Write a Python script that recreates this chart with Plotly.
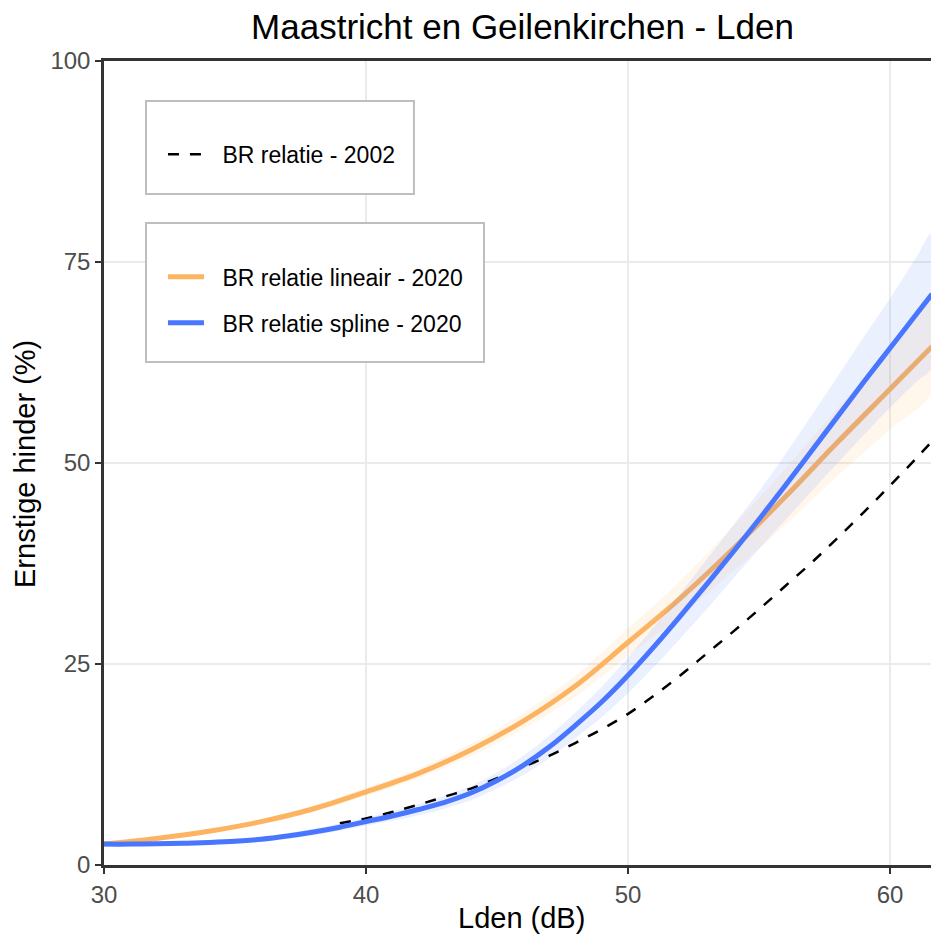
import plotly.graph_objects as go

# ---- data ----
lden_lin = [30, 32, 34, 36, 38, 40, 42, 44, 46, 48, 50, 52, 54, 56, 58, 60, 61.6]
hinder_lin = [2.6, 3.3, 4.2, 5.4, 7.0, 9.1, 11.4, 14.3, 17.9, 22.3, 27.7, 33.2, 39.3, 45.8, 52.6, 59.2, 64.5]
lin_lower = [2.4, 3.1, 3.9, 5.1, 6.6, 8.6, 10.8, 13.5, 16.9, 21.0, 26.0, 31.0, 36.5, 42.3, 48.4, 54.2, 58.9]
lin_upper = [2.8, 3.5, 4.5, 5.7, 7.4, 9.6, 12.0, 15.1, 18.9, 23.6, 29.4, 35.4, 42.1, 49.3, 56.8, 64.2, 70.1]

lden_spl = [30, 31, 32, 33, 34, 35, 36, 37, 38, 39, 40, 41, 42, 43, 44, 45, 46, 47, 48, 49, 50,
            51, 52, 53, 54, 55, 56, 57, 58, 59, 60, 61, 61.6]
hinder_spl = [2.6, 2.6, 2.65, 2.7, 2.8, 2.95, 3.2, 3.6, 4.1, 4.7, 5.4, 6.1, 6.9, 7.8, 8.95, 10.5, 12.4,
              14.7, 17.4, 20.3, 23.6, 27.2, 31.0, 34.9, 38.9, 43.0, 47.2, 51.5, 55.8, 60.1, 64.3, 68.5, 71.0]
spl_upper = [2.9, 2.9, 2.95, 3.0, 3.1, 3.25, 3.5, 3.95, 4.5, 5.15, 5.9, 6.7, 7.6, 8.6, 9.85, 11.5, 13.6,
             16.1, 19.0, 22.2, 25.8, 29.7, 33.8, 38.0, 42.2, 46.5, 51.1, 55.9, 60.8, 65.7, 70.5, 75.6, 78.6]
spl_lower = [2.3, 2.3, 2.35, 2.4, 2.5, 2.65, 2.9, 3.25, 3.7, 4.25, 4.9, 5.5, 6.2, 7.0, 8.05, 9.5, 11.2,
             13.3, 15.8, 18.4, 21.4, 24.7, 28.2, 31.8, 35.6, 39.3, 42.9, 46.5, 50.0, 53.5, 56.9, 60.1, 62.0]

lden_2002 = [39, 40, 41, 42, 43, 44, 45, 46, 47, 48, 49, 50, 51, 52, 53, 54, 55, 56, 57, 58, 59, 60, 61, 61.6]
hinder_2002 = [5.2, 5.8, 6.6, 7.5, 8.5, 9.5, 10.8, 12.2, 13.6, 15.2, 16.9, 18.8, 21.1, 23.6, 26.3, 29.0,
               31.8, 34.7, 37.6, 40.7, 43.9, 47.2, 50.6, 52.7]

x_ticks = [30, 40, 50, 60]
y_ticks = [0, 25, 50, 75, 100]

ORANGE = "#FDB462"
BLUE = "#4876FF"
FONT = "Liberation Sans, Arial, sans-serif"
PAD = "\u2002\u200a"  # gap between legend key and label

fig = go.Figure()

# orange band + line
fig.add_trace(go.Scatter(
    x=lden_lin + lden_lin[::-1], y=lin_upper + lin_lower[::-1],
    fill="toself", fillcolor="rgba(253,180,98,0.12)", line=dict(width=0),
    mode="lines", line_shape="spline", showlegend=False, hoverinfo="skip"))
fig.add_trace(go.Scatter(
    x=lden_lin, y=hinder_lin, mode="lines", line=dict(color=ORANGE, width=5, shape="spline"),
    name=PAD + "BR relatie lineair - 2020", legend="legend2", legendgroup="lin"))

# blue band
fig.add_trace(go.Scatter(
    x=lden_spl + lden_spl[::-1], y=spl_upper + spl_lower[::-1],
    fill="toself", fillcolor="rgba(72,118,255,0.11)", line=dict(width=0),
    mode="lines", line_shape="spline", showlegend=False, hoverinfo="skip"))

# dashed 2002
fig.add_trace(go.Scatter(
    x=lden_2002, y=hinder_2002, mode="lines",
    line=dict(color="black", width=2.5, dash="11px,11px", shape="spline"),
    name=PAD + "BR relatie - 2002", legend="legend"))

# blue line
fig.add_trace(go.Scatter(
    x=lden_spl, y=hinder_spl, mode="lines", line=dict(color=BLUE, width=5, shape="spline"),
    name=PAD + "BR relatie spline - 2020", legend="legend2", legendgroup="spl"))

legend_common = dict(
    bgcolor="rgba(0,0,0,0)", borderwidth=0,
    font=dict(family=FONT, size=23, color="black"),
    xanchor="left", yanchor="middle", itemwidth=36,
)

box_style = dict(type="rect", xref="paper", yref="paper", fillcolor="white",
                 line=dict(color="#BEBEBE", width=2), layer="above")

fig.update_layout(
    width=931, height=936,
    margin=dict(l=104, r=0, t=61, b=71, autoexpand=False),
    paper_bgcolor="white", plot_bgcolor="white",
    font=dict(family=FONT, color="black"),
    title=dict(text="Maastricht en Geilenkirchen - Lden", x=0.5612, xanchor="center",
               y=0.9712, yanchor="middle", yref="container",
               font=dict(family=FONT, size=35, color="black")),
    legend=dict(x=0.0713, y=0.8841, **legend_common),
    legend2=dict(x=0.0713, y=0.7029, tracegroupgap=13, **legend_common),
    shapes=[
        dict(x0=0.0508, x1=0.3748, y0=0.8346, y1=0.9502, **box_style),
        dict(x0=0.0508, x1=0.4595, y0=0.6256, y1=0.7985, **box_style),
    ],
    annotations=[
        dict(text="Lden (dB)", xref="paper", yref="paper", x=0.5054, y=-0.0659,
             xanchor="center", yanchor="middle", showarrow=False,
             font=dict(family=FONT, size=29, color="black")),
        dict(text="Ernstige hinder (%)", xref="paper", yref="paper", x=-0.0955, y=0.4988,
             xanchor="center", yanchor="middle", showarrow=False, textangle=-90,
             font=dict(family=FONT, size=29, color="black")),
    ],
    xaxis=dict(
        range=[30, 61.56], tickvals=x_ticks, ticktext=[str(v) for v in x_ticks],
        showgrid=True, gridcolor="#EBEBEB", gridwidth=2,
        showline=True, linecolor="#333333", linewidth=2.5, mirror=True,
        ticks="outside", ticklen=6, tickwidth=2, tickcolor="#333333",
        tickfont=dict(family=FONT, size=24, color="#4D4D4D"),
        zeroline=False, automargin=False,
    ),
    yaxis=dict(
        range=[0, 100], tickvals=y_ticks, ticktext=[str(v) for v in y_ticks],
        showgrid=True, gridcolor="#EBEBEB", gridwidth=2,
        showline=True, linecolor="#333333", linewidth=2.5, mirror=True,
        ticks="outside", ticklen=6, tickwidth=2, tickcolor="#333333",
        tickfont=dict(family=FONT, size=24, color="#4D4D4D"),
        zeroline=False, automargin=False,
    ),
)

# remove the default 8px page margin so the 931x936 figure fills the window exactly
fig.write_html("out.html", config={"displayModeBar": False},
               post_script="document.body.style.margin='0';")
